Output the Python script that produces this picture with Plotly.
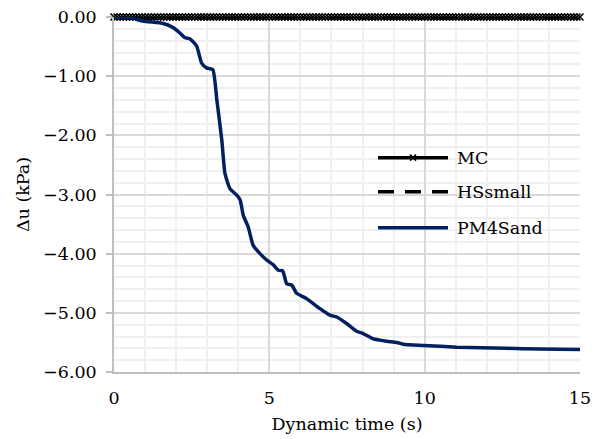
import numpy as np
import plotly.graph_objects as go

# ---- data ----
time_grid = np.round(np.arange(0, 15.0001, 0.1), 2).tolist()
mc_du = [0.0] * len(time_grid)
hs_du = [0.0] * len(time_grid)

pm_time = [0.0, 0.09, 0.51, 0.94, 1.59, 1.91, 2.12, 2.29, 2.45, 2.66, 2.82, 2.98, 3.18,
           3.31, 3.47, 3.57, 3.73, 3.95, 4.06, 4.16, 4.32, 4.48, 4.70, 4.92, 5.13,
           5.29, 5.43, 5.56, 5.72, 5.88, 6.20, 6.63, 6.95, 7.17, 7.49, 7.81, 8.02,
           8.35, 8.78, 9.10, 9.31, 9.96, 11.03, 12.64, 13.71, 15.0]
pm_du = [0.0, -0.01, -0.01, -0.07, -0.11, -0.18, -0.27, -0.35, -0.37, -0.49, -0.78, -0.86, -0.89,
         -1.40, -2.08, -2.64, -2.90, -3.01, -3.09, -3.35, -3.55, -3.86, -4.00, -4.11, -4.19,
         -4.28, -4.29, -4.51, -4.53, -4.67, -4.76, -4.93, -5.04, -5.07, -5.18, -5.31, -5.35,
         -5.44, -5.48, -5.50, -5.53, -5.55, -5.58, -5.60, -5.61, -5.62]

series_names = ["MC", "HSsmall", "PM4Sand"]
y_ticks = [0, -1, -2, -3, -4, -5, -6]
x_ticks = [0, 5, 10, 15]

FONT = "DejaVu Serif"
FS = 17.5
NAVY = "#002060"
DASH = "16px,11px"

fig = go.Figure()
fig.add_trace(go.Scatter(x=time_grid, y=hs_du, mode="lines", name=series_names[1],
                         line=dict(color="black", width=3, dash=DASH),
                         cliponaxis=False, showlegend=False))
fig.add_trace(go.Scatter(x=time_grid, y=mc_du, mode="lines+markers", name=series_names[0],
                         line=dict(color="black", width=3),
                         marker=dict(symbol="x-thin", size=7, line=dict(color="black", width=1.6)),
                         cliponaxis=False, showlegend=False))
fig.add_trace(go.Scatter(x=pm_time, y=pm_du, mode="lines", name=series_names[2],
                         line=dict(color=NAVY, width=3.5, shape="spline", smoothing=0.5),
                         cliponaxis=False, showlegend=False))

# ---- custom legend (long line samples as in the reference) ----
leg_x0, leg_x1, leg_tx = 0.5665, 0.7167, 0.7318
leg_y = [0.6037, 0.5078, 0.4062]
styles = [dict(color="black", width=3.5), dict(color="black", width=3.5, dash=DASH),
          dict(color=NAVY, width=3.5)]
shapes = []
annotations = []
for name, yy, st in zip(series_names, leg_y, styles):
    shapes.append(dict(type="line", xref="paper", yref="paper", x0=leg_x0, x1=leg_x1,
                       y0=yy, y1=yy, line=st))
    annotations.append(dict(xref="paper", yref="paper", x=leg_tx, y=yy, text=name,
                            showarrow=False, xanchor="left", yanchor="middle",
                            font=dict(family=FONT, size=FS, color="black")))
xm = (leg_x0 + leg_x1) / 2
for a, b in [(-3, 3), (3, -3)]:
    shapes.append(dict(type="line", xref="paper", yref="paper", xsizemode="pixel",
                       ysizemode="pixel", xanchor=xm, yanchor=leg_y[0],
                       x0=-3, x1=3, y0=a, y1=b, line=dict(color="black", width=1.6)))

fig.update_layout(
    width=597, height=439,
    margin=dict(l=114, r=17, t=17, b=67, autoexpand=False),
    paper_bgcolor="white", plot_bgcolor="white",
    font=dict(family=FONT, size=FS, color="black"),
    shapes=shapes, annotations=annotations,
    showlegend=False,
)
fig.update_xaxes(
    range=[0, 15], tickvals=x_ticks, ticktext=[str(v) for v in x_ticks],
    showgrid=True, gridcolor="#d9d9d9", gridwidth=1.5,
    minor=dict(dtick=1, showgrid=True, gridcolor="#f0f0f0", gridwidth=1.5),
    showline=True, linecolor="#bfbfbf", linewidth=1.5,
    ticks="", ticklabelstandoff=9, zeroline=False, automargin=False,
    title=dict(text="Dynamic time (s)", standoff=11, font=dict(family=FONT, size=FS)),
    tickfont=dict(family=FONT, size=FS),
)
fig.update_yaxes(
    range=[-6, 0], tickvals=y_ticks, tickformat=".2f",
    showgrid=True, gridcolor="#d9d9d9", gridwidth=1.5,
    minor=dict(dtick=0.2, showgrid=True, gridcolor="#f0f0f0", gridwidth=1.5),
    showline=True, linecolor="#bfbfbf", linewidth=1.5,
    ticks="outside", ticklen=6, tickcolor="#bfbfbf", tickwidth=1.5,
    ticklabelstandoff=6, zeroline=False, automargin=False,
    title=dict(text="Δu (kPa)", standoff=9, font=dict(family=FONT, size=FS)),
    tickfont=dict(family=FONT, size=FS),
)

fig.write_html("out.html")
